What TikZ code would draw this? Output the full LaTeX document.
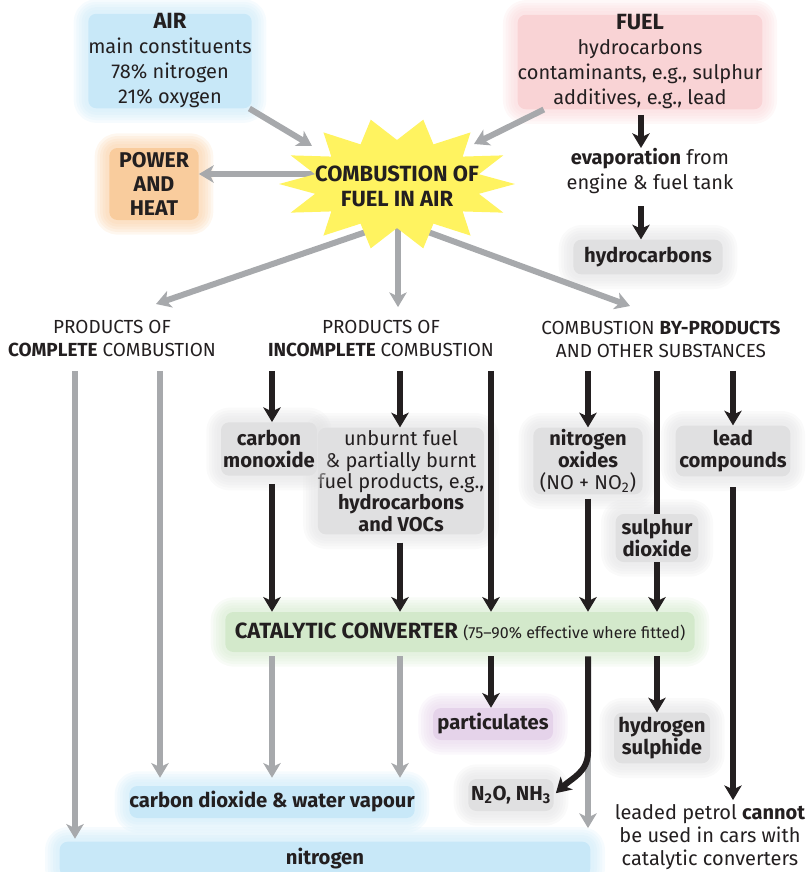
\documentclass[tikz,border=0pt]{standalone}
\usepackage{fontspec}
\setmainfont{Fira Sans}
\usetikzlibrary{arrows.meta}
\definecolor{txt}{HTML}{231F20}
\definecolor{arrgray}{HTML}{A7A9AC}
\definecolor{airblue}{HTML}{C8E8F8}
\definecolor{fuelpink}{HTML}{F9D3D5}
\definecolor{powerorange}{HTML}{F9CC9D}
\definecolor{staryellow}{HTML}{FFF360}
\definecolor{catgreen}{HTML}{D3E9CB}
\definecolor{partpurple}{HTML}{E5D3EA}
\definecolor{glowgray}{HTML}{E0E0E1}
\newcommand{\capsb}[1]{{\fontsize{16.5}{18}\selectfont\bfseries #1}}
\tikzset{
  base/.style={align=center, inner sep=0pt, text=txt},
  box/.style={base, fill=#1, rounded corners=6pt, line join=round,
    preaction={draw=#1, draw opacity=0.16, line width=22pt},
    preaction={draw=#1, draw opacity=0.16, line width=18pt},
    preaction={draw=#1, draw opacity=0.16, line width=14pt},
    preaction={draw=#1, draw opacity=0.16, line width=10pt},
    preaction={draw=#1, draw opacity=0.16, line width=6pt}},
  hdr/.style={base, inner xsep=2pt, inner ysep=10pt, font=\fontsize{14.2}{17.25}\selectfont},
  garrow/.style={draw=arrgray, line width=4.5pt, -{Stealth[length=11pt,width=13pt,inset=3pt]}},
  karrow/.style={draw=txt, line width=4.5pt, -{Stealth[length=11pt,width=13pt,inset=3pt]}},
  kline/.style={draw=txt, line width=4.5pt},
  fmain/.style={font=\fontsize{15}{17}\selectfont},
}
\begin{document}
\begin{tikzpicture}[x=0.75pt, y=-0.75pt, fmain]
\useasboundingbox (0,0) rectangle (809,872);

% ---------- nodes ----------
\node[box=airblue, minimum width=112pt, minimum height=66pt, font=\fontsize{15}{18.75}\selectfont] (air) at (170,61)
  {\capsb{AIR}\\main constituents\\78\% nitrogen\\21\% oxygen};
\node[box=fuelpink, minimum width=161pt, minimum height=66pt, font=\fontsize{15}{18.75}\selectfont] (fuel) at (640,62)
  {\capsb{FUEL}\\hydrocarbons\\contaminants, e.g., sulphur\\additives, e.g., lead};
\node[box=powerorange, minimum width=67pt, minimum height=54pt, font=\fontsize{16}{18}\selectfont\bfseries] (power) at (154,184)
  {POWER\\AND\\HEAT};
\node[base, font=\fontsize{15}{18.75}\selectfont] (evap) at (650,171)
  {\textbf{evaporation} from\\engine \& fuel tank};
\node[box=glowgray, minimum width=112pt, minimum height=26pt, font=\fontsize{15.2}{17}\selectfont] (hc) at (648,257) {\textbf{hydrocarbons}};

\node[hdr] (hdr1) at (112,339) {PRODUCTS OF\\\textbf{COMPLETE} COMBUSTION};
\node[hdr] (hdr2) at (381,339) {PRODUCTS OF\\\textbf{INCOMPLETE} COMBUSTION};
\node[hdr] (hdr3) at (661,339) {COMBUSTION \textbf{BY-PRODUCTS}\\AND OTHER SUBSTANCES};

\node[box=glowgray, minimum width=92pt, minimum height=80pt, font=\fontsize{15}{16}\selectfont] (unb) at (401,481)
  {unburnt fuel\\\& partially burnt\\fuel products, e.g.,\\\textbf{hydrocarbons}\\\textbf{and VOCs}};
\node[box=glowgray, minimum width=72pt, minimum height=40pt, font=\fontsize{15.2}{16.5}\selectfont\bfseries] (co) at (269,449)
  {carbon\\monoxide};
\node[box=glowgray, minimum width=82pt, minimum height=50pt, font=\fontsize{15}{16.5}\selectfont] (nox) at (588,461)
  {\textbf{nitrogen}\\\textbf{oxides}\\(NO + NO\textsubscript{2})};
\node[box=glowgray, minimum width=86pt, minimum height=38pt, font=\fontsize{15.2}{16.5}\selectfont\bfseries] (lead) at (733,451)
  {lead\\compounds};
\node[box=glowgray, minimum width=62pt, minimum height=36pt, font=\fontsize{15.2}{15.5}\selectfont\bfseries] (so2) at (657,538)
  {sulphur\\dioxide};

\node[box=catgreen, minimum width=352pt, minimum height=30pt] (cat) at (460,632)
  {\capsb{CATALYTIC CONVERTER} {\fontsize{12}{12}\selectfont(75–90\% effective where fitted)}};

\node[box=partpurple, minimum width=90pt, minimum height=24pt, font=\fontsize{15.2}{17}\selectfont] (part) at (493,724) {\textbf{particulates}};
\node[box=glowgray, minimum width=72pt, minimum height=38pt, font=\fontsize{15.2}{17}\selectfont\bfseries] (h2s) at (662,738)
  {hydrogen\\sulphide};
\node[box=glowgray, minimum width=64pt, minimum height=24pt, font=\fontsize{15.2}{17}\selectfont] (n2o) at (511,795) {\textbf{N\textsubscript{2}O, NH\textsubscript{3}}};
\node[box=airblue, minimum width=212pt, minimum height=24pt, font=\fontsize{15.2}{17}\selectfont] (co2) at (272,802) {\textbf{carbon dioxide \& water vapour}};
\node[box=airblue, minimum width=398pt, minimum height=26pt, font=\fontsize{15.2}{17}\selectfont] (nit) at (325,859) {\textbf{nitrogen}};
\node[base, font=\fontsize{15}{17.25}\selectfont] (leaded) at (710,837)
  {leaded petrol \textbf{cannot}\\be used in cars with\\catalytic converters};

% ---------- coordinates ----------
\coordinate (sBot) at (398,221);
\coordinate (sW) at (330,174);
\coordinate (sNW) at (312,146);
\coordinate (sNE) at (474,144);
\coordinate (t1) at (156,304);
\coordinate (t3) at (630,306);
\coordinate (cA) at (75,0);
\coordinate (cB) at (160,0);
\coordinate (cC) at (272,0);
\coordinate (cD) at (400,0);
\coordinate (cE) at (491,0);
\coordinate (cF) at (588,0);
\coordinate (cG) at (657,0);
\coordinate (cH) at (733,0);
\coordinate (cFuel) at (641,0);
\coordinate (bend) at (588,752);

% ---------- arrows behind the star ----------
\draw[garrow] (sBot) -- (t1);
\draw[garrow] (sBot) -- (sBot |- hdr2.north);
\draw[garrow] (sBot) -- (t3);
\draw[garrow] (sW) -- (sW -| power.east);

% ---------- starburst ----------
\fill[staryellow] plot[samples at={0,...,27}]
  ({397 + ifthenelse(mod(\x,2)==0,118,84)*cos(102.857+\x*12.857)},
   {184 - ifthenelse(mod(\x,2)==0,66,44)*sin(102.857+\x*12.857)}) -- cycle;
\node[base, font=\fontsize{16.5}{18.75}\selectfont\bfseries] (star) at (397,186) {COMBUSTION OF\\FUEL IN AIR};

\draw[garrow] (air) -- (sNW);
\draw[garrow] (fuel) -- (sNE);

% ---------- fuel evaporation ----------
\draw[karrow, shorten <=4pt] (fuel.south -| cFuel) -- (evap.north -| cFuel);
\draw[karrow, shorten <=9pt] (evap.south -| cFuel) -- (hc.north -| cFuel);

% ---------- complete combustion ----------
\draw[garrow, shorten >=2pt] (hdr1.south -| cA) -- (nit.north -| cA);
\draw[garrow, shorten >=6pt] (hdr1.south -| cB) -- (co2.north -| cB);

% ---------- incomplete combustion ----------
\draw[karrow] (hdr2.south -| cC) -- (co.north -| cC);
\draw[karrow, shorten <=6pt] (co.south -| cC) -- (cat.north -| cC);
\draw[karrow] (hdr2.south -| cD) -- (unb.north -| cD);
\draw[karrow, shorten <=6pt] (unb.south -| cD) -- (cat.north -| cD);
\draw[karrow] (hdr2.south -| cE) -- (cat.north -| cE);

% ---------- by-products ----------
\draw[karrow] (hdr3.south -| cF) -- (nox.north -| cF);
\draw[karrow, shorten <=3pt] (nox.south -| cF) -- (cat.north -| cF);
\draw[kline] (hdr3.south -| cG) -- (so2.north -| cG);
\draw[karrow] (so2.south -| cG) -- (cat.north -| cG);
\draw[karrow] (hdr3.south -| cH) -- (lead.north -| cH);
\draw[karrow, shorten <=8pt, shorten >=3pt] (lead.south -| cH) -- (leaded.north -| cH);

% ---------- after the catalytic converter ----------
\draw[garrow, shorten <=3pt, shorten >=6pt] (cat.south -| cC) -- (co2.north -| cC);
\draw[garrow, shorten <=3pt, shorten >=6pt] (cat.south -| cD) -- (co2.north -| cD);
\draw[karrow, shorten <=3pt] (cat.south -| cE) -- (part.north -| cE);
\draw[garrow, shorten >=10pt] (bend) -- (nit.north -| cF);
\draw[karrow, shorten <=3pt, shorten >=2pt] (cat.south -| cF) -- (bend) .. controls (588,772) and (572,778) .. (n2o.east);
\draw[karrow, shorten <=3pt] (cat.south -| cG) -- (h2s.north -| cG);
\end{tikzpicture}
\end{document}
